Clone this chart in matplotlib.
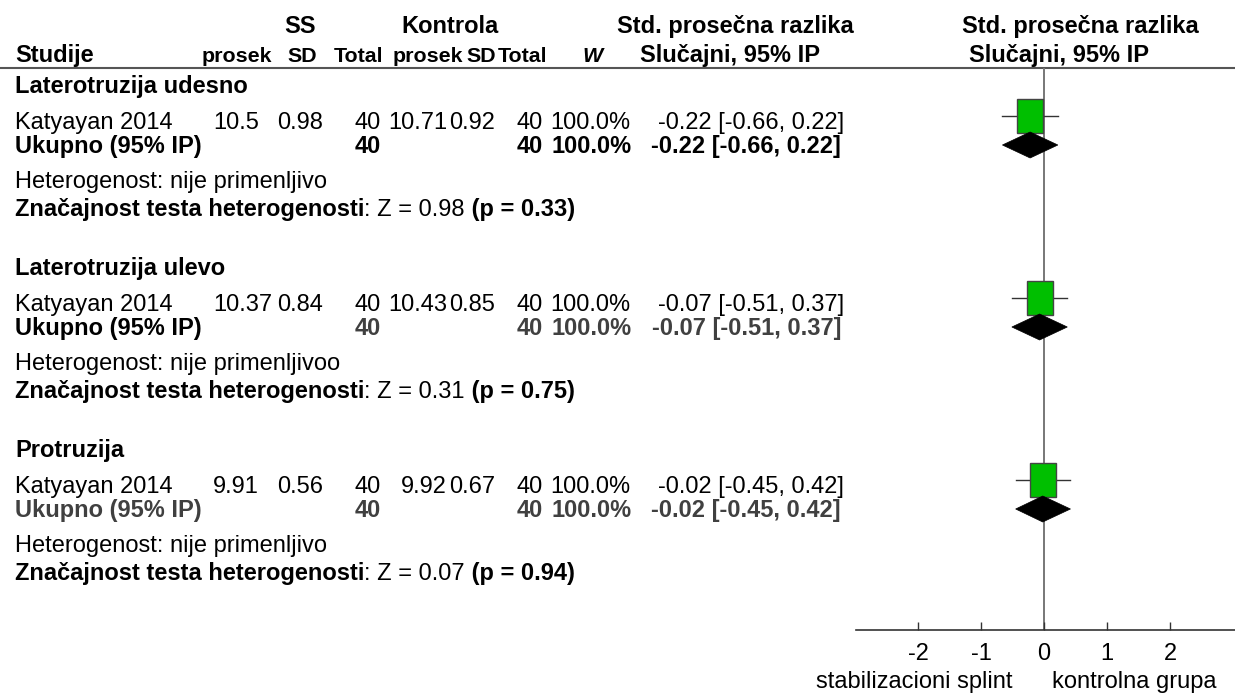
import matplotlib
matplotlib.use("Agg")
import matplotlib.pyplot as plt
from matplotlib.patches import Rectangle, Polygon

plt.rcParams["font.family"] = ["Liberation Sans", "DejaVu Sans"]

# data
groups = ["Laterotruzija udesno", "Laterotruzija ulevo", "Protruzija"]
studies = ["Katyayan 2014", "Katyayan 2014", "Katyayan 2014"]
ss_mean = [10.5, 10.37, 9.91]
ss_sd = [0.98, 0.84, 0.56]
ss_n = [40, 40, 40]
k_mean = [10.71, 10.43, 9.92]
k_sd = [0.92, 0.85, 0.67]
k_n = [40, 40, 40]
weight = [100.0, 100.0, 100.0]
smd = [-0.22, -0.07, -0.02]
ci_lo = [-0.66, -0.51, -0.45]
ci_hi = [0.22, 0.37, 0.42]
het = ["nije primenljivo", "nije primenljivoo", "nije primenljivo"]
z_val = [0.98, 0.31, 0.07]
p_val = [0.33, 0.75, 0.94]
xticks = [-2, -1, 0, 1, 2]
left_label = "stabilizacioni splint"
right_label = "kontrolna grupa"

FS = 17
FS2 = 15.4
W, H = 1235, 693

fig = plt.figure(figsize=(12.35, 6.93), dpi=100)
ax = fig.add_axes([0, 0, 1, 1])
ax.set_xlim(0, W)
ax.set_ylim(H, 0)
ax.axis("off")


def txt(x, y, s, ha="left", bold=False, size=FS, color="black", style="normal"):
    return ax.text(x, y, s, ha=ha, va="baseline", fontsize=size, color=color,
                   fontweight="bold" if bold else "normal", fontstyle=style)


# header
txt(300, 33, "SS", ha="center", bold=True)
txt(450, 33, "Kontrola", ha="center", bold=True)
txt(735, 33, "Std. prosečna razlika", ha="center", bold=True)
txt(1080, 33, "Std. prosečna razlika", ha="center", bold=True)
txt(15, 62, "Studije", bold=True)
txt(237, 62, "prosek", ha="center", bold=True, size=FS2)
txt(302, 62, "SD", ha="center", bold=True, size=FS2)
txt(359, 62, "Total", ha="center", bold=True, size=FS2)
txt(428, 62, "prosek", ha="center", bold=True, size=FS2)
txt(481, 62, "SD", ha="center", bold=True, size=FS2)
txt(523, 62, "Total", ha="center", bold=True, size=FS2)
txt(592, 62, "W", ha="center", bold=True, size=FS2, style="italic")
txt(730, 62, "Slučajni, 95% IP", ha="center", bold=True)
txt(1059, 62, "Slučajni, 95% IP", ha="center", bold=True)
ax.plot([0, W], [68, 68], color="#555555", lw=1.5)

fig.canvas.draw()
renderer = fig.canvas.get_renderer()

tot_col = ["black", "#404040", "#404040"]
lab_col = ["black", "black", "#404040"]
offs = [0, 182, 364]

for i, g in enumerate(groups):
    o = offs[i]
    txt(15, 93 + o, g, bold=True)
    # study row
    y = 129 + o
    txt(15, y, studies[i])
    txt(213, y, f"{ss_mean[i]:g}")
    txt(323, y, f"{ss_sd[i]:.2f}", ha="right")
    txt(381, y, f"{ss_n[i]}", ha="right")
    txt(447, y, f"{k_mean[i]:g}", ha="right")
    txt(495, y, f"{k_sd[i]:.2f}", ha="right")
    txt(543, y, f"{k_n[i]}", ha="right")
    txt(630, y, f"{weight[i]:.1f}%", ha="right")
    txt(844, y, f"{smd[i]:.2f} [{ci_lo[i]:.2f}, {ci_hi[i]:.2f}]", ha="right")
    # total row
    y = 153 + o
    txt(15, y, "Ukupno (95% IP)", bold=True, color=lab_col[i])
    txt(381, y, f"{ss_n[i]}", ha="right", bold=True, color=tot_col[i])
    txt(543, y, f"{k_n[i]}", ha="right", bold=True, color=tot_col[i])
    txt(632, y, f"{weight[i]:.1f}%", ha="right", bold=True, color=tot_col[i])
    txt(841, y, f"{smd[i]:.2f} [{ci_lo[i]:.2f}, {ci_hi[i]:.2f}]", ha="right",
        bold=True, color=tot_col[i])
    txt(15, 188 + o, "Heterogenost: " + het[i])
    # test line, mixed weights
    x = 15
    for s, b in [("Značajnost testa heterogenosti", True),
                 (f": Z = {z_val[i]:.2f}", False),
                 (f" (p = {p_val[i]:.2f})", True)]:
        t = txt(x, 216 + o, s, bold=b)
        x += t.get_window_extent(renderer).width

txt(1013, 688, left_label, ha="right")
txt(1052, 688, right_label)

# forest panel
x0 = 1044
ppu = 63
fa = fig.add_axes([856 / W, (H - 630) / H, (W - 856) / W, (630 - 68) / H])
fa.set_facecolor("none")
fa.set_xlim((856 - x0) / ppu, (W - x0) / ppu)
fa.set_ylim(630, 68)
for s in ["left", "right", "top"]:
    fa.spines[s].set_visible(False)
fa.spines["bottom"].set_color("#333333")
fa.spines["bottom"].set_linewidth(1.2)
fa.set_yticks([])
fa.set_xticks(xticks)
fa.set_xticklabels([str(v) for v in xticks])
fa.tick_params(axis="x", direction="in", length=6, width=1, color="#333333",
               labelsize=FS, pad=9)
fa.axvline(0, color="#777777", lw=1.4, zorder=1)

for i in range(len(groups)):
    o = offs[i]
    cy = 116 + o
    fa.plot([ci_lo[i], ci_hi[i]], [cy, cy], color="#333333", lw=1, zorder=2)
    w = 26 / ppu
    fa.add_patch(Rectangle((smd[i] - w / 2, cy - 17), w, 34, facecolor="#00bf00",
                           edgecolor="#444444", lw=1, zorder=3))
    dy = 145 + o
    fa.add_patch(Polygon([(ci_lo[i], dy), (smd[i], dy - 13), (ci_hi[i], dy),
                          (smd[i], dy + 13)], closed=True, facecolor="black",
                         edgecolor="black", lw=0.5, zorder=4))

fig.savefig("out.png", dpi=100)
